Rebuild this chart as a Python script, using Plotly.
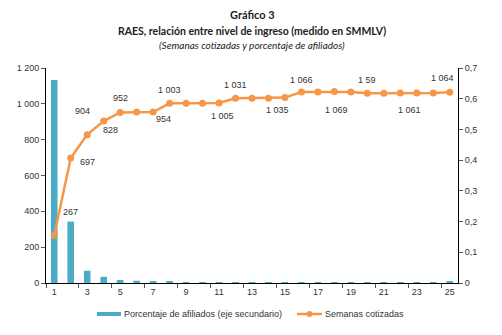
import plotly.graph_objects as go

# Nivel de ingreso (SMMLV)
categorias = list(range(1, 26))

# Porcentaje de afiliados (eje secundario, 0 - 0,7)
porcentaje_afiliados = [0.661, 0.200, 0.040, 0.020, 0.010, 0.0075, 0.0055, 0.0035,
                        0.0022, 0.0013, 0.0008, 0.0006, 0.0005, 0.0005, 0.0005,
                        0.0005, 0.0005, 0.0005, 0.0005, 0.0006, 0.0012, 0.0012,
                        0.0012, 0.0012, 0.006]

# Semanas cotizadas
semanas_cotizadas = [267, 697, 828, 904, 952, 954, 954, 1003, 1003, 1003, 1005, 1031,
                     1031, 1031, 1035, 1066, 1066, 1069, 1066, 1059, 1059, 1061, 1061,
                     1061, 1064]

# Etiquetas de datos: (categoría, texto, desplazamiento x, desplazamiento y)
etiquetas = [
    (1, "267", 16, 23),
    (2, "697", 17, -4),
    (3, "828", 23, 5),
    (4, "904", -21, 10),
    (5, "952", 0, 14),
    (7, "954", 10, -7),
    (8, "1 003", 0, 13),
    (11, "1 005", 3, -13),
    (12, "1 031", 0, 13),
    (15, "1 035", -7, -12),
    (16, "1 066", 0, 12),
    (18, "1 069", 2, -19),
    (20, "1 59", 0, 13),
    (22, "1 061", 9, -17),
    (25, "1 064", -7, 14),
]

ticks_izq = [0, 200, 400, 600, 800, 1000, 1200]
ticks_izq_txt = ["0", "200", "400", "600", "800", "1 000", "1 200"]
ticks_der = [0, 0.1, 0.2, 0.3, 0.4, 0.5, 0.6, 0.7]
ticks_der_txt = ["0", "0,1", "0,2", "0,3", "0,4", "0,5", "0,6", "0,7"]
ticks_x = list(range(1, 26, 2))

nombre_barras = "Porcentaje de afiliados (eje secundario)"
nombre_linea = "Semanas cotizadas"

AZUL = "#4BACC6"
NARANJA = "#F79646"
TXT = "#333333"
FUENTE = "Liberation Sans, Arial, sans-serif"
FUENTE_TIT = "Lato, sans-serif"

# Geometría de la figura (píxeles)
ANCHO, ALTO = 502, 335
M_IZQ, M_DER, M_SUP, M_INF = 46, 44, 68, 52
ancho_plot = ANCHO - M_IZQ - M_DER
alto_plot = ALTO - M_SUP - M_INF

def px(pix):
    return (pix - M_IZQ) / ancho_plot

def py(pix):
    return (ALTO - M_INF - pix) / alto_plot

fig = go.Figure()

fig.add_trace(go.Bar(
    x=categorias, y=porcentaje_afiliados, name=nombre_barras,
    marker=dict(color=AZUL, line=dict(width=0)), width=0.4, yaxis="y",
))

fig.add_trace(go.Scatter(
    x=categorias, y=semanas_cotizadas, name=nombre_linea, mode="lines+markers",
    line=dict(color=NARANJA, width=2.5), marker=dict(color=NARANJA, size=7),
    yaxis="y2",
))

for cat, txt, dx, dy in etiquetas:
    fig.add_annotation(
        x=cat, y=semanas_cotizadas[cat - 1], xref="x", yref="y2", text=txt,
        showarrow=False, xshift=dx, yshift=dy,
        font=dict(family=FUENTE, size=9, color=TXT),
    )

# Títulos
titulos = [
    ("<b>Gráfico 3</b>", 15, 11),
    ("<b>RAES, relación entre nivel de ingreso (medido en SMMLV)</b>", 31, 10.5),
    ("<i>(Semanas cotizadas y porcentaje de afiliados)</i>", 45, 10),
]
for txt, ypix, tam in titulos:
    fig.add_annotation(x=0.5, xref="paper", y=py(ypix), yref="paper", yanchor="middle",
                       text=txt, showarrow=False,
                       font=dict(family=FUENTE_TIT, size=tam, color="#222"))

# Leyenda inferior dibujada a mano
y_ley = 314
fig.add_shape(type="rect", xref="paper", yref="paper",
              x0=px(97), x1=px(121), y0=py(312), y1=py(316),
              fillcolor=AZUL, line=dict(width=0))
fig.add_annotation(x=px(122), y=py(y_ley), xref="paper", yref="paper",
                   xanchor="left", yanchor="middle", text=nombre_barras, showarrow=False,
                   font=dict(family=FUENTE, size=9, color=TXT))
fig.add_shape(type="line", xref="paper", yref="paper",
              x0=px(297), x1=px(322), y0=py(y_ley), y1=py(y_ley),
              line=dict(color=NARANJA, width=2.5))
fig.add_shape(type="circle", xref="paper", yref="paper",
              x0=px(306.5), x1=px(312.5), y0=py(311), y1=py(317),
              fillcolor=NARANJA, line=dict(width=0))
fig.add_annotation(x=px(323), y=py(y_ley), xref="paper", yref="paper",
                   xanchor="left", yanchor="middle", text=nombre_linea, showarrow=False,
                   font=dict(family=FUENTE, size=9, color=TXT))

fig.update_layout(
    width=ANCHO, height=ALTO,
    margin=dict(l=M_IZQ, r=M_DER, t=M_SUP, b=M_INF),
    paper_bgcolor="white", plot_bgcolor="white",
    showlegend=False,
    xaxis=dict(range=[0.5, 25.5], tickvals=ticks_x, ticktext=[str(t) for t in ticks_x],
               ticks="", showline=True, linecolor="#000", linewidth=1,
               showgrid=False, zeroline=False,
               tickfont=dict(family=FUENTE, size=9, color=TXT),
               minor=dict(tickvals=[0.5 + 2 * k for k in range(13)], ticks="outside",
                          ticklen=4, tickcolor="#555", showgrid=False)),
    yaxis=dict(range=[0, 0.7], side="right", tickvals=ticks_der, ticktext=ticks_der_txt,
               ticks="outside", ticklen=4, tickcolor="#555", showline=True,
               linecolor="#000", linewidth=1, showgrid=False, zeroline=False,
               tickfont=dict(family=FUENTE, size=9, color=TXT)),
    yaxis2=dict(range=[0, 1200], side="left", overlaying="y", tickvals=ticks_izq,
                ticktext=ticks_izq_txt, ticks="outside", ticklen=4, tickcolor="#555",
                showline=True, linecolor="#000", linewidth=1, showgrid=False,
                zeroline=False, tickfont=dict(family=FUENTE, size=9, color=TXT)),
)

fig.write_html("out.html")
